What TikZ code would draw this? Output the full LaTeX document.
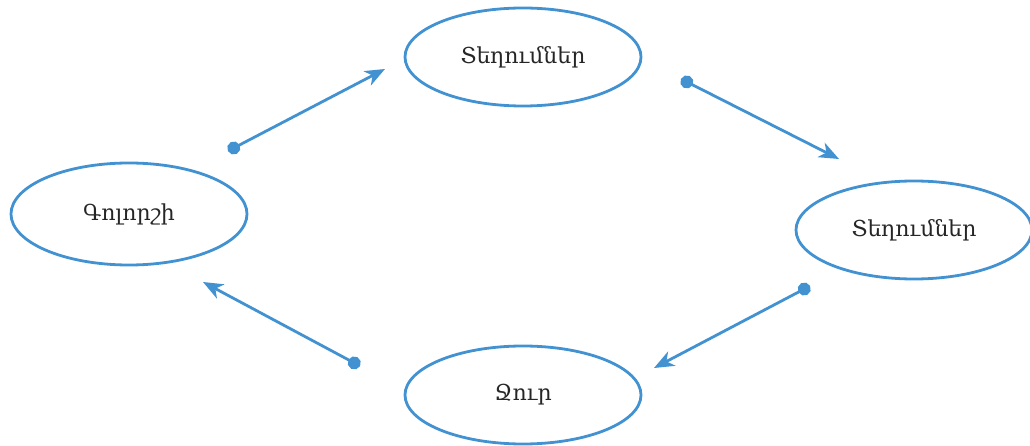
\documentclass[tikz,border=0pt]{standalone}
\usepackage{fontspec}
\setmainfont{DejaVu Serif}
\usetikzlibrary{arrows.meta,shapes.geometric}
\definecolor{cblue}{RGB}{66,146,210}
\tikzset{
  bubble/.style={draw=cblue,line width=2.8pt,ellipse,minimum width=236pt,minimum height=98pt,inner sep=0pt,font=\fontsize{22}{26}\selectfont,text=black!85},
  flow/.style={draw=cblue,line width=2.8pt,{Circle[length=13pt]}-{Stealth[length=20pt,width=16pt,inset=6pt]}}
}
\begin{document}
\begin{tikzpicture}[x=1pt,y=-1pt]
\useasboundingbox (0,0) rectangle (1030,446);
\node[bubble] (top) at (523,57) {Տեղումներ};
\node[bubble,minimum height=102pt] (left) at (129,214) {Գոլորշի};
\node[bubble] (right) at (914,230) {Տեղումներ};
\node[bubble] (bot) at (523,395) {Ջուր};
\coordinate (a1) at (228,151); \coordinate (a2) at (385,69);
\coordinate (b1) at (681,79);  \coordinate (b2) at (839,159);
\coordinate (c1) at (810,286); \coordinate (c2) at (654,368);
\coordinate (d1) at (360,366); \coordinate (d2) at (203,282);
\draw[flow] (a1) -- (a2);
\draw[flow] (b1) -- (b2);
\draw[flow] (c1) -- (c2);
\draw[flow] (d1) -- (d2);
\end{tikzpicture}
\end{document}
